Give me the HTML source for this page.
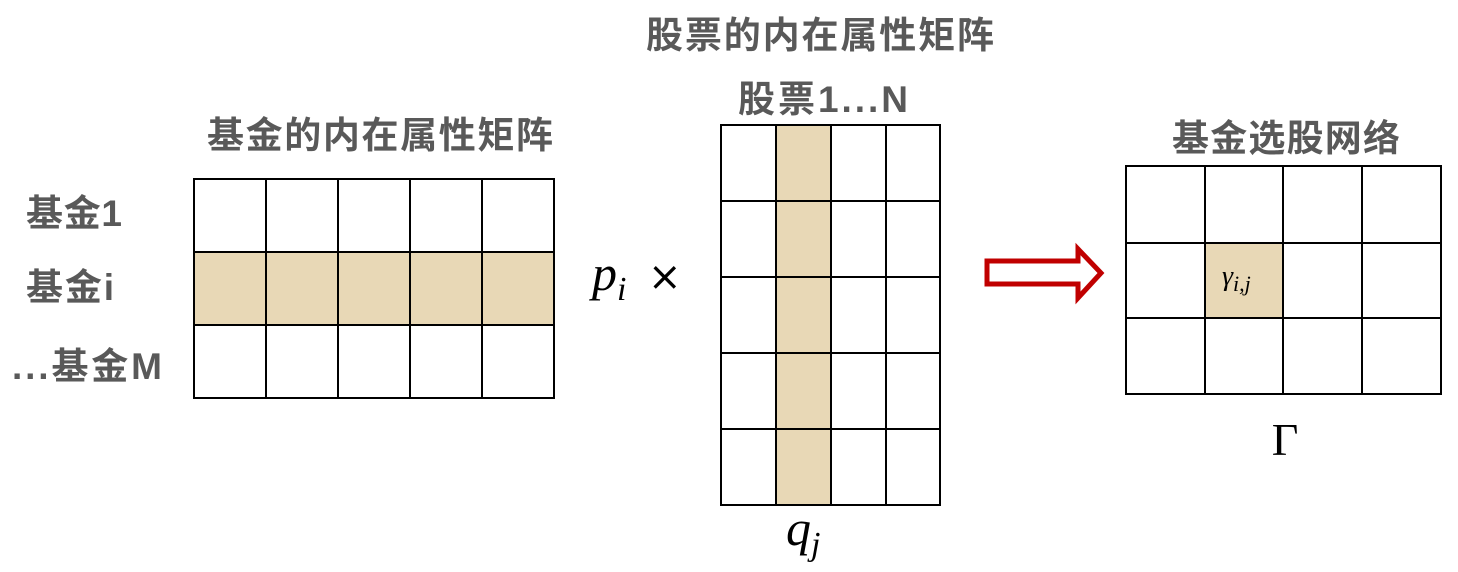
<!DOCTYPE html>
<html><head><meta charset="utf-8"><style>
body{margin:0;width:1458px;height:567px;background:#fff;overflow:hidden}
</style></head><body>
<svg width="1458" height="567" xmlns="http://www.w3.org/2000/svg">
<g font-family="'Liberation Sans','Noto Sans CJK SC',sans-serif" font-weight="bold" fill="#595959" font-size="37">
<text x="380" y="148" text-anchor="middle" textLength="346">基金的内在属性矩阵</text>
<text x="820" y="48" text-anchor="middle" textLength="348">股票的内在属性矩阵</text>
<text x="823" y="112" text-anchor="middle" textLength="170">股票1...N</text>
<text x="1286" y="151" text-anchor="middle" textLength="228">基金选股网络</text>
<text x="26" y="226" textLength="96">基金1</text>
<text x="26" y="300" textLength="88">基金i</text>
<text x="12" y="379" textLength="150">...基金M</text>
</g>
<!-- left grid -->
<rect x="194" y="252" width="360" height="73" fill="#e8d8b6"/>
<g stroke="#000" stroke-width="2" fill="none">
<rect x="194" y="179" width="360" height="219"/>
<line x1="194" y1="252" x2="554" y2="252"/><line x1="194" y1="325" x2="554" y2="325"/>
<line x1="266" y1="179" x2="266" y2="398"/><line x1="338" y1="179" x2="338" y2="398"/>
<line x1="410" y1="179" x2="410" y2="398"/><line x1="482" y1="179" x2="482" y2="398"/>
</g>
<!-- middle grid -->
<rect x="776" y="125" width="55" height="380" fill="#e8d8b6"/>
<g stroke="#000" stroke-width="2" fill="none">
<rect x="721" y="125" width="219" height="380"/>
<line x1="776" y1="125" x2="776" y2="505"/><line x1="831" y1="125" x2="831" y2="505"/><line x1="886" y1="125" x2="886" y2="505"/>
<line x1="721" y1="201" x2="940" y2="201"/><line x1="721" y1="277" x2="940" y2="277"/>
<line x1="721" y1="353" x2="940" y2="353"/><line x1="721" y1="429" x2="940" y2="429"/>
</g>
<!-- right grid -->
<rect x="1205" y="243" width="78" height="75" fill="#e8d8b6"/>
<g stroke="#000" stroke-width="2" fill="none">
<rect x="1126" y="166" width="315" height="228"/>
<line x1="1126" y1="243" x2="1441" y2="243"/><line x1="1126" y1="318" x2="1441" y2="318"/>
<line x1="1205" y1="166" x2="1205" y2="394"/><line x1="1283" y1="166" x2="1283" y2="394"/><line x1="1362" y1="166" x2="1362" y2="394"/>
</g>
<!-- arrow -->
<polygon points="987,261 1078,261 1078,249 1101,273 1078,298 1078,284 987,284" fill="#fff" stroke="#c00000" stroke-width="5"/>
<g font-family="'Liberation Serif',serif" font-style="italic" fill="#000">
<text x="592" y="290" font-size="50">p<tspan font-size="34" dy="10">i</tspan></text>
<text x="786" y="545" font-size="50">q<tspan font-size="34" dy="10">j</tspan></text>
<text x="1222" y="285" font-size="28">γ<tspan font-size="22" dy="6">i,j</tspan></text>
</g>
<text x="648" y="290" font-family="'DejaVu Sans',sans-serif" font-size="40" fill="#000">×</text>
<text x="1285" y="455" text-anchor="middle" font-family="'Liberation Serif',serif" font-size="46" fill="#000">Γ</text>
</svg>
</body></html>
